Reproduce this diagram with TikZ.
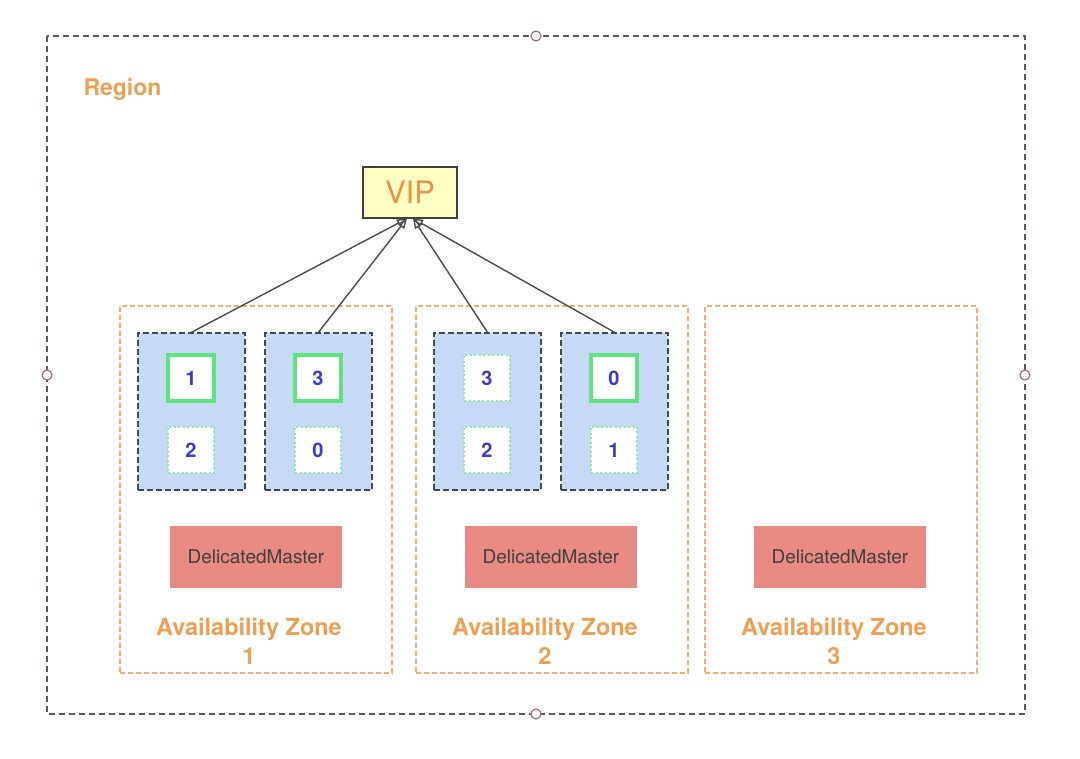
\documentclass[tikz,border=0pt]{standalone}
\usepackage{fontspec}
\setmainfont{TeX Gyre Heros}
\usepackage{xcolor}
\usepackage{tikz}
\usetikzlibrary{arrows.meta,positioning}
\definecolor{regiongray}{HTML}{555A60}
\definecolor{zoneorange}{HTML}{F3AE6E}
\definecolor{textorange}{HTML}{EE9F52}
\definecolor{vipyellow}{HTML}{FFFFC2}
\definecolor{nodeblue}{HTML}{C6DAF7}
\definecolor{nodeborder}{HTML}{3F4854}
\definecolor{shardgreen}{HTML}{5EE47C}
\definecolor{numblue}{HTML}{3B3BD2}
\definecolor{masterred}{HTML}{E98A83}
\definecolor{handle}{HTML}{A07080}
\tikzset{
  regionbox/.style={draw=regiongray,line width=1.1pt,dash pattern=on 6pt off 4pt},
  handlept/.style={circle,draw=handle,fill=white,line width=1.2pt,minimum size=10pt,inner sep=0pt},
  zonebox/.style={draw=zoneorange,line width=1.1pt,dash pattern=on 5pt off 3pt,minimum width=272pt,minimum height=367pt},
  datanode/.style={draw=nodeborder,fill=nodeblue,line width=1.4pt,dash pattern=on 6pt off 3pt,minimum width=107pt,minimum height=157pt},
  primary/.style={draw=shardgreen,fill=white,line width=4.5pt,minimum size=46pt,inner sep=0pt,text=numblue,font=\fontsize{20}{22}\selectfont\bfseries},
  replica/.style={draw=shardgreen!75,fill=white,line width=2.5pt,dash pattern=on 2pt off 2.5pt,minimum size=46pt,inner sep=0pt,text=numblue,font=\fontsize{20}{22}\selectfont\bfseries},
  masterbox/.style={fill=masterred,minimum width=172pt,minimum height=62pt,text=black!75,font=\fontsize{19}{22}\selectfont},
  zonelabel/.style={text=textorange,align=center,font=\fontsize{23.5}{29}\selectfont\bfseries},
  vipline/.style={draw=black!70,line width=1.4pt,-{Triangle[open,length=10pt,width=8pt]}}
}

\begin{document}
\begin{tikzpicture}[x=1pt,y=-1pt]
  \useasboundingbox (0,0) rectangle (1080,759);
  % region
  \draw[regionbox] (47,36) rectangle (1025,714);
  \node[handlept] (ht) at (536,36) {};
  \node[handlept] (hl) at (47,375) {};
  \node[handlept] (hr) at (1025,375) {};
  \node[handlept] (hb) at (536,714) {};
  \node[text=textorange,font=\fontsize{23}{26}\selectfont\bfseries,anchor=west] (region) at (80,89) {Region};
  \node[draw=black!75,fill=vipyellow,line width=1.1pt,minimum width=94pt,minimum height=51pt,text=textorange!90!red,font=\fontsize{31}{33}\selectfont] (vip) at (410,192.5) {VIP};
  % zones
  \node[zonebox] (zone1) at (256,489.5) {};
  \node[zonebox] (zone2) at (552,489.5) {};
  \node[zonebox] (zone3) at (841,489.5) {};
  % data nodes
  \node[datanode] (n1) at (191.5,411.5) {};
  \node[datanode] (n2) at (318.5,411.5) {};
  \node[datanode] (n3) at (487.5,411.5) {};
  \node[datanode] (n4) at (614.5,411.5) {};
  \node[primary] (p1) at (191,378) {1};
  \node[replica] (r1) at (191,450) {2};
  \node[primary] (p2) at (318,378) {3};
  \node[replica] (r2) at (318,450) {0};
  \node[replica] (r3) at (487,378) {3};
  \node[replica] (r4) at (487,450) {2};
  \node[primary] (p3) at (614,378) {0};
  \node[replica] (r5) at (614,450) {1};
  % masters
  \node[masterbox] (m1) at (256,557) {DelicatedMaster};
  \node[masterbox] (m2) at (551,557) {DelicatedMaster};
  \node[masterbox] (m3) at (840,557) {DelicatedMaster};
  \node[zonelabel] (az1) at (249,641) {Availability Zone\\1};
  \node[zonelabel] (az2) at (545,641) {Availability Zone\\2};
  \node[zonelabel] (az3) at (834,641) {Availability Zone\\3};
  % links to vip
  \draw[vipline] (n1.north) -- ([xshift=-3pt]vip.south);
  \draw[vipline] (n2.north) -- ([xshift=-3pt]vip.south);
  \draw[vipline] (n3.north) -- ([xshift=3pt]vip.south);
  \draw[vipline] (n4.north) -- ([xshift=3pt]vip.south);
\end{tikzpicture}
\end{document}
